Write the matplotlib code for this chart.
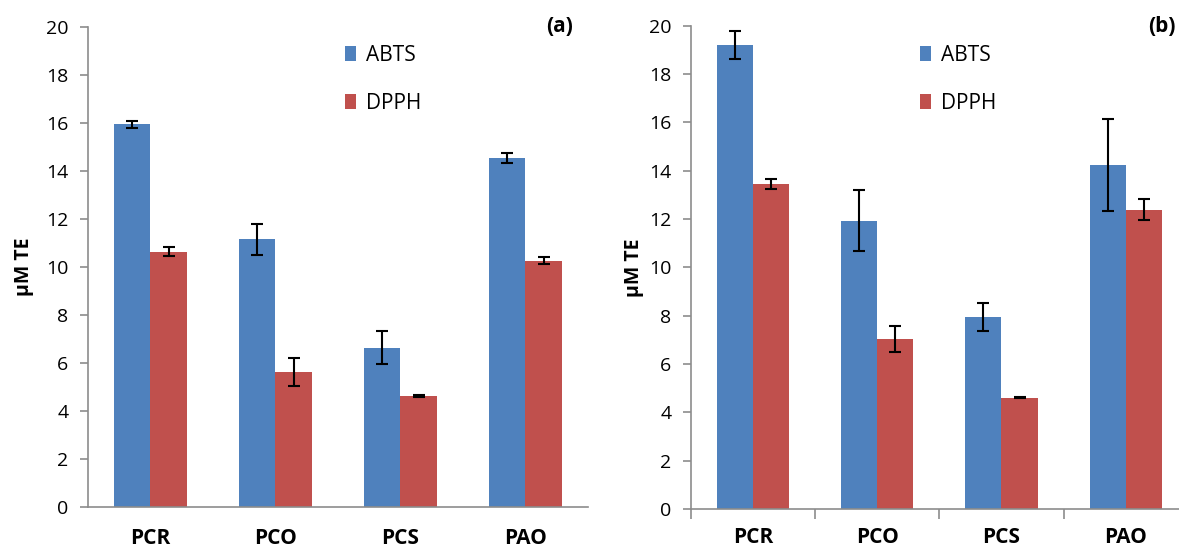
import matplotlib.pyplot as plt
import numpy as np

plt.rcParams['font.family'] = ['Open Sans', 'DejaVu Sans']

categories = ['PCR', 'PCO', 'PCS', 'PAO']

# panel (a)
abts_a = [15.94, 11.16, 6.64, 14.55]
abts_a_err = [0.13, 0.65, 0.70, 0.20]
dpph_a = [10.64, 5.64, 4.63, 10.26]
dpph_a_err = [0.20, 0.59, 0.03, 0.14]

# panel (b)
abts_b = [19.20, 11.93, 7.96, 14.24]
abts_b_err = [0.58, 1.27, 0.58, 1.91]
dpph_b = [13.45, 7.04, 4.61, 12.39]
dpph_b_err = [0.20, 0.55, 0.03, 0.44]

blue = '#4F81BD'
red = '#C0504D'
spine = '#8C8C8C'

fig = plt.figure(figsize=(11.79, 5.5), dpi=100)
ax_a = fig.add_axes([0.0746, 0.078, 0.4241, 0.873])
ax_b = fig.add_axes([0.586, 0.0745, 0.4215, 0.8785])

x = np.arange(len(categories))
w = 0.29


def draw(ax, abts, abts_err, dpph, dpph_err, xticks_marks, xpad):
    ax.bar(x - w / 2, abts, w, color=blue, label='ABTS')
    ax.bar(x + w / 2, dpph, w, color=red, label='DPPH')
    ekw = dict(fmt='none', ecolor='black', elinewidth=1.5, capsize=4, capthick=1.5)
    ax.errorbar(x - w / 2, abts, yerr=abts_err, **ekw)
    ax.errorbar(x + w / 2, dpph, yerr=dpph_err, **ekw)
    ax.set_xlim(-0.5, 3.5)
    ax.set_ylim(0, 20)
    ax.set_yticks(range(0, 21, 2))
    ax.spines['top'].set_visible(False)
    ax.spines['right'].set_visible(False)
    for s in ('left', 'bottom'):
        ax.spines[s].set_color(spine)
        ax.spines[s].set_linewidth(1.2)
    ax.tick_params(axis='y', colors=spine, labelcolor='black', labelsize=14,
                   length=6, width=1.2, direction='out', pad=8)
    ax.set_xticks(x)
    ax.set_xticklabels(categories, fontsize=15, fontweight='bold')
    ax.tick_params(axis='x', length=0, pad=xpad)
    if xticks_marks:
        ax.set_xticks(np.arange(-0.5, 4, 1), minor=True)
        ax.tick_params(axis='x', which='minor', length=7, width=1.2, colors=spine)
    ax.set_ylabel('µM TE', fontsize=14, fontweight='bold')
    ax.legend(loc='upper left', bbox_to_anchor=(0, 0),
              frameon=False, fontsize=15,
              handlelength=0.55, handleheight=0.75, handletextpad=0.45, labelspacing=1.3)
    return ax


draw(ax_a, abts_a, abts_a_err, dpph_a, dpph_a_err, False, 15)
draw(ax_b, abts_b, abts_b_err, dpph_b, dpph_b_err, True, 13)
ax_a.yaxis.set_label_coords(-0.108, 0.5)
ax_b.yaxis.set_label_coords(-0.094, 0.5)

ax_a.get_legend().set_bbox_to_anchor((326 / 1179, 1 - 26 / 550), transform=fig.transFigure)
ax_b.get_legend().set_bbox_to_anchor((901 / 1179, 1 - 26 / 550), transform=fig.transFigure)

fig.text(560 / 1179, 1 - 27 / 550, '(a)', fontsize=15, fontweight='bold', ha='center', va='center')
fig.text(1162 / 1179, 1 - 27 / 550, '(b)', fontsize=15, fontweight='bold', ha='center', va='center')

fig.savefig('out.png', dpi=100)
